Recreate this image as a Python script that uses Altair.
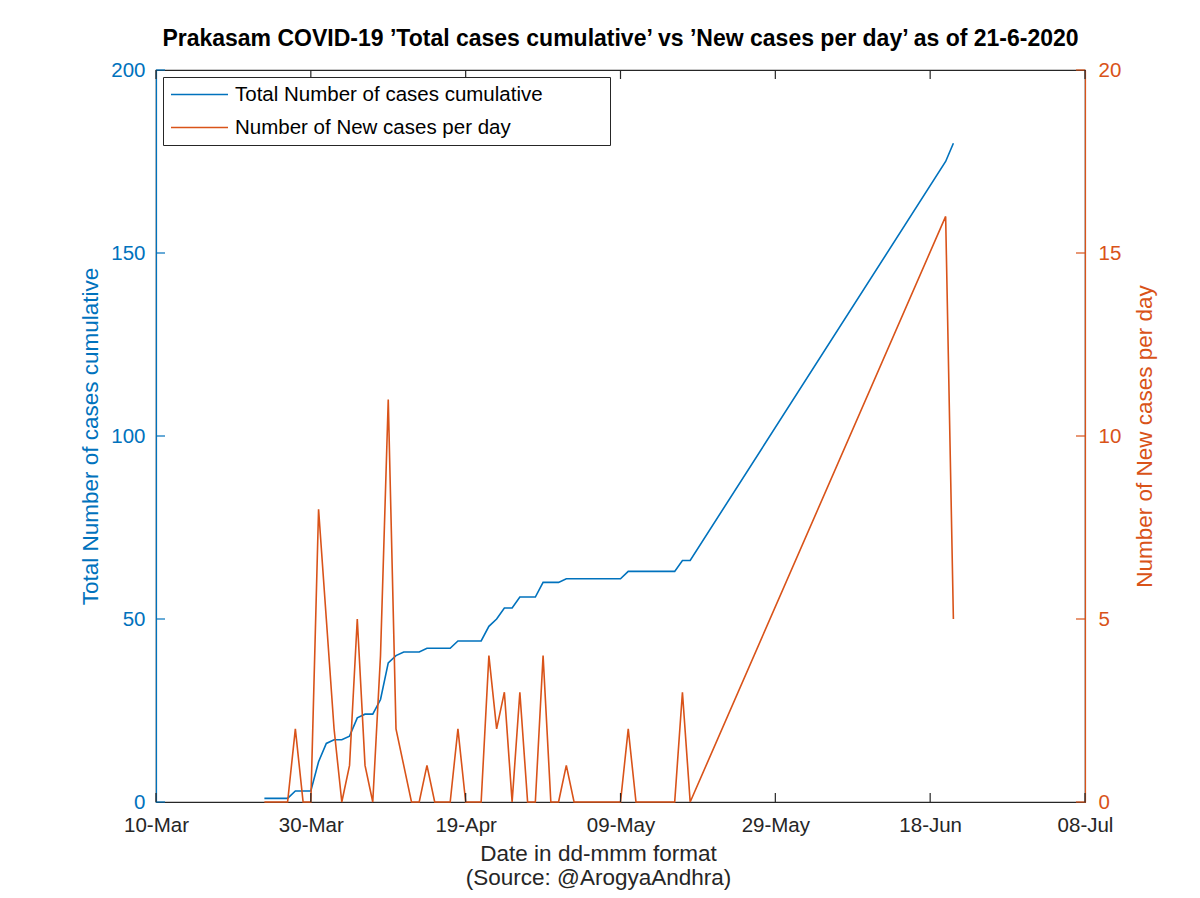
import altair as alt
import pandas as pd

BLUE = "#0072BD"
ORANGE = "#D95319"
FONT = "Liberation Sans"

# ---------------- data ----------------
dates = [
    "2020-03-24", "2020-03-25", "2020-03-26", "2020-03-27", "2020-03-28",
    "2020-03-29", "2020-03-30", "2020-03-31",
    "2020-04-01", "2020-04-02", "2020-04-03", "2020-04-04", "2020-04-05",
    "2020-04-06", "2020-04-07", "2020-04-08", "2020-04-09", "2020-04-10",
    "2020-04-11", "2020-04-12", "2020-04-13", "2020-04-14", "2020-04-15",
    "2020-04-16", "2020-04-17", "2020-04-18", "2020-04-19", "2020-04-20",
    "2020-04-21", "2020-04-22", "2020-04-23", "2020-04-24", "2020-04-25",
    "2020-04-26", "2020-04-27", "2020-04-28", "2020-04-29", "2020-04-30",
    "2020-05-01", "2020-05-02", "2020-05-03", "2020-05-04", "2020-05-05",
    "2020-05-06", "2020-05-07", "2020-05-08", "2020-05-09", "2020-05-10",
    "2020-05-11", "2020-05-12", "2020-05-13", "2020-05-14", "2020-05-15",
    "2020-05-16", "2020-05-17", "2020-05-18",
    "2020-06-20", "2020-06-21",
]
total_cases = [
    1, 1, 1, 1, 3, 3, 3, 11,
    16, 17, 17, 18, 23, 24, 24, 28, 38, 40,
    41, 41, 41, 42, 42, 42, 42, 44, 44, 44,
    44, 48, 50, 53, 53, 56, 56, 56, 60, 60,
    60, 61, 61, 61, 61, 61, 61, 61, 61, 63,
    63, 63, 63, 63, 63, 63, 66, 66,
    175, 180,
]
new_cases = [
    0, 0, 0, 0, 2, 0, 0, 8,
    5, 2, 0, 1, 5, 1, 0, 4, 11, 2,
    1, 0, 0, 1, 0, 0, 0, 2, 0, 0,
    0, 4, 2, 3, 0, 3, 0, 0, 4, 0,
    0, 1, 0, 0, 0, 0, 0, 0, 0, 2,
    0, 0, 0, 0, 0, 0, 3, 0,
    16, 5,
]

x_tick_dates = [(2020, 3, 10), (2020, 3, 30), (2020, 4, 19), (2020, 5, 9),
                (2020, 5, 29), (2020, 6, 18), (2020, 7, 8)]
left_ticks = [0, 50, 100, 150, 200]
right_ticks = [0, 5, 10, 15, 20]

series_names = ["Total Number of cases cumulative", "Number of New cases per day"]
title_text = "Prakasam COVID-19 \u2019Total cases cumulative\u2019 vs \u2019New cases per day\u2019 as of 21-6-2020"
x_title = ["Date in dd-mmm format", "(Source: @ArogyaAndhra)"]
left_title = "Total Number of cases cumulative"
right_title = "Number of New cases per day"

# ---------------- tables ----------------
df_total = pd.DataFrame({"date": dates, "value": total_cases, "series": series_names[0]})
df_new = pd.DataFrame({"date": dates, "value": new_cases, "series": series_names[1]})
xt = pd.DataFrame({"t": ["%04d-%02d-%02d" % d for d in x_tick_dates]})
lt = pd.DataFrame({"v": left_ticks})
rt = pd.DataFrame({"v": right_ticks})

W, H = 929, 732
TICK = 9

x_values = [alt.DateTime(year=y, month=m, date=d, utc=True) for (y, m, d) in x_tick_dates]
x_scale = alt.Scale(type="utc", domain=[x_values[0], x_values[-1]], nice=False)
left_scale = alt.Scale(domain=[0, 200], nice=False, zero=True)
right_scale = alt.Scale(domain=[0, 20], nice=False, zero=True)
color_scale = alt.Scale(domain=series_names, range=[BLUE, ORANGE])

# a long horizontal stroke as legend symbol (unit path scaled by the symbol size);
# blank braille cells widen the legend box like the reference's
legend = alt.Legend(
    title=None,
    orient="top-left",
    offset=7,
    padding=7,
    strokeColor="#262626",
    fillColor="white",
    symbolType="M-3,0H3",
    symbolSize=361,
    symbolOffset=19,
    symbolStrokeWidth=1.6,
    symbolFillColor="transparent",
    labelFont=FONT,
    labelFontSize=20.5,
    labelColor="black",
    labelOffset=25,
    rowPadding=12,
    labelLimit=0,
    labelExpr="datum.label + '\u2800\u2800\u2800\u2800'",
)

x_axis = alt.Axis(
    values=x_values,
    labelExpr="utcFormat(datum.value, '%d-%b')",
    title=x_title,
    titleX=442,
    titleLineHeight=24,
    titlePadding=7,
    titleFontSize=22.5,
    titleFontWeight="normal",
    titleColor="#262626",
    labelFontSize=20.5,
    labelColor="#262626",
    labelPadding=13,
    labelFlush=False,
    labelOverlap=False,
    labelBound=False,
    ticks=False,
    tickSize=0,
    domainColor="#262626",
    domainWidth=1.2,
)

left_axis = alt.Axis(
    orient="left",
    values=left_ticks,
    title=left_title,
    titleColor=BLUE,
    titleFontSize=22.5,
    titleFontWeight="normal",
    titlePadding=8,
    labelColor=BLUE,
    labelFontSize=20.5,
    labelPadding=11,
    ticks=False,
    tickSize=0,
    domainColor=BLUE,
    domainWidth=1.2,
)

right_axis = alt.Axis(
    orient="right",
    values=right_ticks,
    title=right_title,
    titleColor=ORANGE,
    titleFontSize=22.5,
    titleFontWeight="normal",
    titleAngle=270,
    titleBaseline="top",
    titlePadding=13,
    labelColor=ORANGE,
    labelFontSize=20.5,
    labelPadding=13,
    ticks=False,
    tickSize=0,
    domainColor=ORANGE,
    domainWidth=1.2,
)

blue_line = alt.Chart(df_total).mark_line(strokeWidth=1.6).encode(
    x=alt.X("date:T", scale=x_scale, axis=x_axis),
    y=alt.Y("value:Q", scale=left_scale, axis=left_axis),
    color=alt.Color("series:N", scale=color_scale, legend=legend),
)

left_tick_marks = alt.Chart(lt).mark_rule(color=BLUE, strokeWidth=1.2).encode(
    y=alt.Y("v:Q", scale=left_scale, axis=left_axis),
    x=alt.value(0),
    x2=alt.value(TICK),
)

orange_line = alt.Chart(df_new).mark_line(strokeWidth=1.6).encode(
    x=alt.X("date:T", scale=x_scale, axis=x_axis),
    y=alt.Y("value:Q", scale=right_scale, axis=right_axis),
    color=alt.Color("series:N", scale=color_scale, legend=legend),
)

right_tick_marks = alt.Chart(rt).mark_rule(color=ORANGE, strokeWidth=1.2).encode(
    y=alt.Y("v:Q", scale=right_scale, axis=right_axis),
    x=alt.value(W - TICK),
    x2=alt.value(W),
)

top_ticks = alt.Chart(xt).mark_rule(color="#262626", strokeWidth=1.2).encode(
    x=alt.X("t:T", scale=x_scale, axis=x_axis),
    y=alt.value(0),
    y2=alt.value(TICK),
)
bottom_ticks = alt.Chart(xt).mark_rule(color="#262626", strokeWidth=1.2).encode(
    x=alt.X("t:T", scale=x_scale, axis=x_axis),
    y=alt.value(H - TICK),
    y2=alt.value(H),
)

chart = (
    alt.layer(
        alt.layer(blue_line, left_tick_marks),
        alt.layer(orange_line, right_tick_marks),
        top_ticks,
        bottom_ticks,
    )
    .resolve_scale(y="independent")
    .properties(
        width=W,
        height=H,
        padding={"left": 148, "top": 62, "right": 107, "bottom": 88},
        autosize=alt.AutoSizeParams(type="none"),
        background="white",
        title=alt.TitleParams(
            text=title_text,
            font=FONT,
            fontSize=23,
            fontWeight="bold",
            color="black",
            anchor="middle",
            offset=9,
        ),
    )
    .configure_view(stroke="#262626", strokeWidth=1.2)
    .configure_axis(grid=False, labelFont=FONT, titleFont=FONT)
)

chart.save("out.html", embed_options={"renderer": "svg", "actions": False})
